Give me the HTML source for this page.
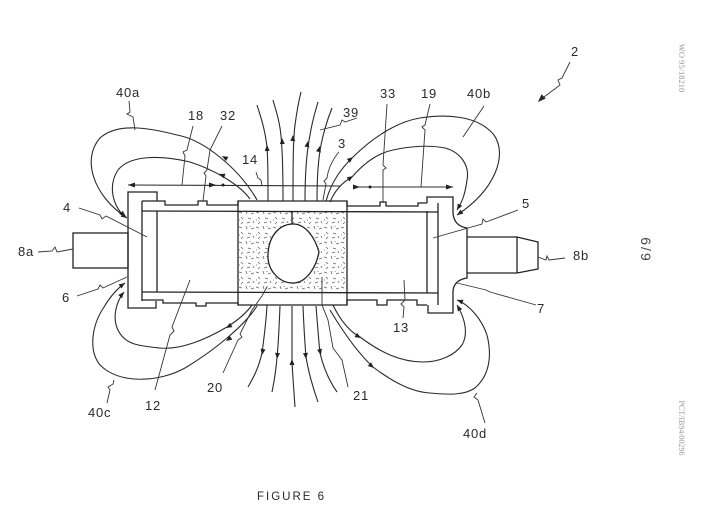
<!DOCTYPE html>
<html><head><meta charset="utf-8"><style>
html,body{margin:0;padding:0;background:#fff;}
svg{display:block;}
text{font-family:"Liberation Sans",Arial,sans-serif;fill:#2a2a2a;}
</style></head><body>
<svg width="702" height="510" viewBox="0 0 702 510" xmlns="http://www.w3.org/2000/svg">
<defs>
<pattern id="sp" x="0" y="0" width="17" height="15" patternUnits="userSpaceOnUse">
<path d="M1,2 l3,1 M8,1 l1,3 M13,4 l3,-1 M3,7 l2,2 M10,8 l3,1 M15,11 l1,2 M5,12 l-2,2 M9,13 l3,-1 M12,1 l0,1 M1,10 l1,0" stroke="#666" stroke-width="0.8" fill="none"/>
</pattern>
</defs>
<rect width="702" height="510" fill="#fff"/>

<rect x="239" y="212" width="107" height="79" fill="url(#sp)"/>

<g fill="none" stroke="#222" stroke-width="1.3">
<rect x="73" y="233" width="55" height="35"/>
<path d="M157,201 V192 H128 V308 H156 V301"/>
<line x1="142" y1="201" x2="142" y2="301"/>
<line x1="157" y1="211" x2="157" y2="292"/>
<path d="M142,201 H165 V205 H198 V201 H207 V205 H238 V201 H347 V206 H380 V202 H386 V206 H418 V203 H427"/>
<line x1="142" y1="211" x2="438" y2="212"/>
<line x1="142" y1="292" x2="438" y2="293"/>
<path d="M142,300 H163 V303 H196 V306 H206 V303 H238 V305 H347 V300 H377 V305 H387 V300 H417 V305 H427"/>
<line x1="238" y1="201" x2="238" y2="305"/>
<line x1="347" y1="201" x2="347" y2="305"/>
<path d="M268,254 C269,234 281,224 293,224 C306,224 315,238 319,252 C316,268 306,283 293,283 C279,283 267,270 268,254 Z" fill="#fff"/>
<line x1="292" y1="211" x2="292" y2="224"/>
<path d="M427,203 V197 H453 V213 Q454,226 467,228 V278 Q454,280 453,291 V313 H428 V305"/>
<line x1="438" y1="203" x2="438" y2="305"/>
<line x1="427" y1="211" x2="427" y2="293"/>
<path d="M467,237 H517 L538,242 V269 L517,273 H467"/>
<line x1="517" y1="237" x2="517" y2="273"/>
</g>

<g fill="none" stroke="#2a2a2a" stroke-width="1.1">
<path d="M257,200 C240,170 205,140 177,135 C150,128 118,122 100,138 C82,158 92,195 127,218"/>
<path d="M250,199 C240,185 215,170 190,162 C160,155 130,155 118,170 C108,185 112,205 125,217"/>
<path d="M268,201 C268,175 268,150 266,140 C264,125 260,115 257,105"/>
<path d="M283,201 C283,170 282,140 280,128 C278,115 275,108 273,100"/>
<path d="M293,201 C293,170 293,140 295,125 C297,110 299,100 301,92"/>
<path d="M305,201 C305,175 307,150 310,135 C312,122 315,112 318,102"/>
<path d="M317,201 C317,180 318,160 321,145 C324,130 328,118 332,108"/>
<path d="M326,201 C332,180 342,168 352,158 C370,140 395,122 420,118 C445,114 478,115 494,135 C508,155 495,190 457,215"/>
<path d="M330,202 C335,190 343,182 352,177 C365,162 378,153 393,150 C410,146 430,145 445,148 C460,152 470,165 467,180 C465,195 462,202 457,210"/>
<path d="M267,305 C266,325 263,345 262,353 C258,370 253,378 248,387"/>
<path d="M280,306 C279,330 278,350 277,357 C276,372 274,382 272,392"/>
<path d="M292,306 C292,330 292,350 292,362 C293,380 294,392 295,407"/>
<path d="M303,306 C304,330 305,345 306,357 C309,375 313,388 318,402"/>
<path d="M316,306 C318,330 319,345 320,353 C324,370 330,382 337,392"/>
<path d="M252,305 C245,315 235,322 227,327 C205,340 180,350 160,348 C140,346 125,345 118,330 C112,318 116,302 124,292"/>
<path d="M257,306 C245,325 215,350 185,368 C160,382 120,385 100,365 C88,350 92,325 104,307 C110,297 118,288 125,283"/>
<path d="M333,305 C340,320 350,332 360,337 C380,352 400,362 423,362 C440,362 455,355 462,345 C468,335 466,320 457,305"/>
<path d="M330,310 C345,335 360,355 373,367 C390,380 410,392 430,393 C450,395 465,395 475,388 C490,375 492,355 487,335 C482,320 470,305 457,300"/>
<line x1="128" y1="185" x2="340" y2="186"/>
<line x1="357" y1="187" x2="453" y2="187"/>
</g>

<g fill="#222">
<path d="M0,0 L-6,-2.5 L-6,2.5 Z" transform="translate(267,145) rotate(-92)"/>
<path d="M0,0 L-6,-2.5 L-6,2.5 Z" transform="translate(282,138) rotate(-93)"/>
<path d="M0,0 L-6,-2.5 L-6,2.5 Z" transform="translate(293,135) rotate(-88)"/>
<path d="M0,0 L-6,-2.5 L-6,2.5 Z" transform="translate(308,141) rotate(-80)"/>
<path d="M0,0 L-6,-2.5 L-6,2.5 Z" transform="translate(320,146) rotate(-75)"/>
<path d="M0,0 L-6,-2.5 L-6,2.5 Z" transform="translate(222,156) rotate(210)"/>
<path d="M0,0 L-6,-2.5 L-6,2.5 Z" transform="translate(219,174) rotate(200)"/>
<path d="M0,0 L-6,-2.5 L-6,2.5 Z" transform="translate(127,218) rotate(35)"/>
<path d="M0,0 L-6,-2.5 L-6,2.5 Z" transform="translate(125,217) rotate(50)"/>
<path d="M0,0 L-6,-2.5 L-6,2.5 Z" transform="translate(353,157) rotate(-40)"/>
<path d="M0,0 L-6,-2.5 L-6,2.5 Z" transform="translate(353,176) rotate(-35)"/>
<path d="M0,0 L-6,-2.5 L-6,2.5 Z" transform="translate(457,215) rotate(145)"/>
<path d="M0,0 L-6,-2.5 L-6,2.5 Z" transform="translate(457,210) rotate(120)"/>
<path d="M0,0 L-6,-2.5 L-6,2.5 Z" transform="translate(262,355) rotate(100)"/>
<path d="M0,0 L-6,-2.5 L-6,2.5 Z" transform="translate(277,359) rotate(95)"/>
<path d="M0,0 L-6,-2.5 L-6,2.5 Z" transform="translate(292,359) rotate(-90)"/>
<path d="M0,0 L-6,-2.5 L-6,2.5 Z" transform="translate(306,359) rotate(85)"/>
<path d="M0,0 L-6,-2.5 L-6,2.5 Z" transform="translate(321,355) rotate(75)"/>
<path d="M0,0 L-6,-2.5 L-6,2.5 Z" transform="translate(226,328) rotate(150)"/>
<path d="M0,0 L-6,-2.5 L-6,2.5 Z" transform="translate(226,341) rotate(145)"/>
<path d="M0,0 L-6,-2.5 L-6,2.5 Z" transform="translate(124,292) rotate(-50)"/>
<path d="M0,0 L-6,-2.5 L-6,2.5 Z" transform="translate(125,283) rotate(-35)"/>
<path d="M0,0 L-6,-2.5 L-6,2.5 Z" transform="translate(361,338) rotate(30)"/>
<path d="M0,0 L-6,-2.5 L-6,2.5 Z" transform="translate(374,368) rotate(40)"/>
<path d="M0,0 L-6,-2.5 L-6,2.5 Z" transform="translate(457,305) rotate(-120)"/>
<path d="M0,0 L-6,-2.5 L-6,2.5 Z" transform="translate(457,300) rotate(-160)"/>
<path d="M0,0 L-7,-2.5 L-7,2.5 Z" transform="translate(128,185) rotate(180)"/>
<path d="M0,0 L-7,-2.5 L-7,2.5 Z" transform="translate(216,185)"/>
<circle cx="223" cy="185" r="1.5"/>
<path d="M0,0 L-7,-2.5 L-7,2.5 Z" transform="translate(360,187)"/>
<circle cx="370" cy="187" r="1.5"/>
<path d="M0,0 L-7,-2.5 L-7,2.5 Z" transform="translate(453,187)"/>
<path d="M0,0 L-8,-3 L-8,3 Z" transform="translate(538,102) rotate(135)"/>
</g>

<g fill="none" stroke="#333" stroke-width="0.9">
<path d="M570,62 L562,78 L558,80 L560,85 L540,100"/>
<path d="M129,101 L130,112 L127,114 L133,117 L135,130"/>
<path d="M193,126 L187,150 L183,152 L185,156 L182,185"/>
<path d="M222,126 L210,150 L207,170 L204,173 L206,176 L203,201"/>
<path d="M256,172 L258,178 L261,180 L262,186"/>
<path d="M357,118 L345,122 L342,120 L340,125 L320,130"/>
<path d="M339,152 C332,160 328,170 327,178 L324,181 L326,184 L323,200"/>
<path d="M387,104 L385,135 L383,165 L386,168 L383,170 L383,203"/>
<path d="M430,104 L425,125 L422,127 L425,130 L421,187"/>
<path d="M484,106 L463,137"/>
<path d="M79,208 L100,215 L102,219 L106,216 L147,237"/>
<path d="M518,210 L486,222 L483,219 L482,224 L433,238"/>
<path d="M38,252 L52,251 L55,247 L57,252 L73,249"/>
<path d="M565,258 L549,260 L547,256 L546,260 L538,257"/>
<path d="M77,296 L98,289 L100,285 L103,288 L127,277"/>
<path d="M536,305 L490,292 L486,290 L457,283"/>
<path d="M155,390 L170,335 L174,331 L172,327 L190,280"/>
<path d="M223,373 L238,340 L242,337 L240,334 L252,310 L262,296 L267,287"/>
<path d="M348,387 L342,360 L336,352 L333,348 L328,320 L322,305 L322,277"/>
<path d="M107,403 L110,390 L108,387 L113,384 L114,380"/>
<path d="M403,318 L404,307 L401,304 L405,300 L404,280"/>
<path d="M485,423 L478,400 L474,397 L477,393"/>
</g>

<g font-size="13" letter-spacing="0.8">
<text x="571" y="56">2</text>
<text x="116" y="97">40a</text>
<text x="188" y="120">18</text>
<text x="220" y="120">32</text>
<text x="343" y="117">39</text>
<text x="380" y="98">33</text>
<text x="421" y="98">19</text>
<text x="467" y="98">40b</text>
<text x="242" y="164">14</text>
<text x="338" y="148">3</text>
<text x="63" y="212">4</text>
<text x="522" y="208">5</text>
<text x="18" y="256">8a</text>
<text x="573" y="260">8b</text>
<text x="62" y="302">6</text>
<text x="537" y="313">7</text>
<text x="145" y="410">12</text>
<text x="207" y="392">20</text>
<text x="353" y="400">21</text>
<text x="88" y="417">40c</text>
<text x="393" y="332">13</text>
<text x="463" y="438">40d</text>
</g>
<text x="257" y="500" font-size="11.5" letter-spacing="2">FIGURE 6</text>

<text x="0" y="0" font-size="14" letter-spacing="2" style="fill:#444" text-anchor="middle" transform="translate(641,250) rotate(90)">6/9</text>
<text x="0" y="0" font-size="8.5" text-anchor="middle" style="fill:#999;font-family:'Liberation Serif',serif" transform="translate(679,68) rotate(90)">WO 95/18210</text>
<text x="0" y="0" font-size="8" text-anchor="middle" style="fill:#999;font-family:'Liberation Serif',serif" transform="translate(679,428) rotate(90)">PCT/IB94/00296</text>
</svg>
</body></html>
